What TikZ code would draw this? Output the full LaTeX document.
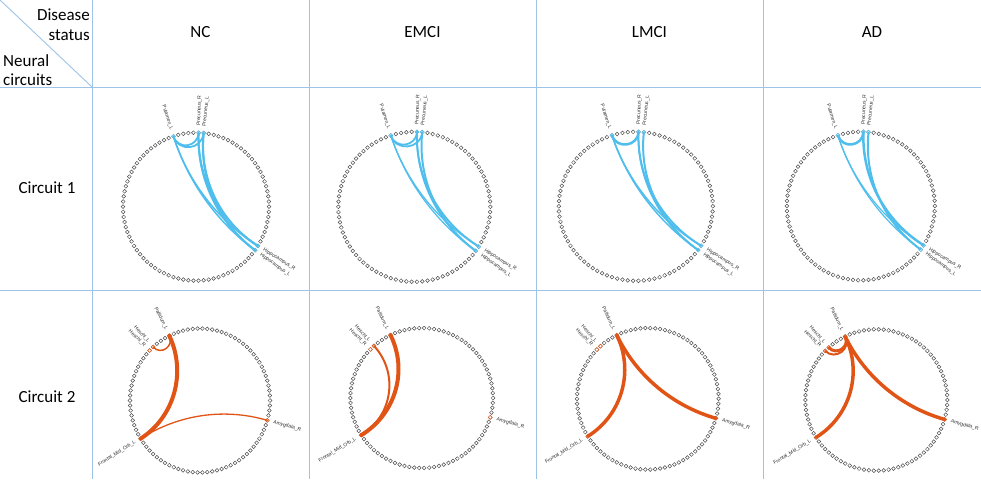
\documentclass[tikz,border=0pt]{standalone}
\usepackage{fontspec}
\setmainfont{Carlito}
\newfontfamily\labelfont{Liberation Sans}
\definecolor{gridblue}{RGB}{157,195,230}
\definecolor{dotgray}{RGB}{80,80,80}
\definecolor{lblue}{RGB}{80,190,236}
\definecolor{orng}{RGB}{224,84,22}
\definecolor{labgray}{RGB}{45,45,45}
\tikzset{
  gridline/.style={draw=gridblue, line width=0.9pt},
  hdr/.style={font=\fontsize{17}{20}\selectfont, inner sep=0pt},
  ringdot/.style={circle, draw=dotgray, fill=white, line width=0.5pt, inner sep=0pt, minimum size=3.8pt},
  hotblue/.style={ringdot, draw=lblue},
  hotorng/.style={ringdot, draw=orng},
  roilab/.style={font=\fontsize{5}{6}\selectfont\labelfont, text=labgray, inner sep=0pt},
  labout/.style={roilab, anchor=west, rotate=#1},
  labin/.style={roilab, anchor=east, rotate=#1},
  bl/.style={draw=lblue, line width=#1, line cap=round},
  org/.style={draw=orng, line width=#1, line cap=round},
}
\newcommand\ringone[1]{%
  \foreach \k in {0,...,89} \node[ringdot] at (\k*4:1) {};
  \foreach \a/\n in {108/put,88/prer,84/prel,-32/hipr,-36/hipl} \node[hotblue] (#1-\n) at (\a:1) {};
  \node[labin=-72] (#1-tput) at (108:1.09) {Putamen\_L};
  \node[labout=88] (#1-tprer) at (88:1.09) {Precuneus\_R};
  \node[labout=84] (#1-tprel) at (84:1.09) {Precuneus\_L};
  \node[labout=-32] (#1-thipr) at (-32:1.09) {Hippocampus\_R};
  \node[labout=-36] (#1-thipl) at (-36:1.09) {Hippocampus\_L};
}
\newcommand\ringtwo[1]{%
  \foreach \k in {0,...,89} \node[ringdot] at (\k*4:1) {};
  \foreach \a/\n in {116/pal,132/hesl,136/hesr,212/fmo,-16/amyr} \node[hotorng] (#1-\n) at (\a:1) {};
  \node[labin=-64] (#1-tpal) at (116:1.09) {Pallidum\_L};
  \node[labin=-48] (#1-thesl) at (132:1.09) {Heschl\_L};
  \node[labin=-44] (#1-thesr) at (136:1.09) {Heschl\_R};
  \node[labin=32] (#1-tfmo) at (212:1.09) {Frontal\_Mid\_Orb\_L};
  \node[labout=-16] (#1-tamyr) at (-16:1.09) {Amygdala\_R};
}
\begin{document}
\begin{tikzpicture}[x=1pt,y=1pt]
\path[use as bounding box] (0,0) rectangle (981,479);
% table grid
\draw[gridline] (0,392) -- (981,392);
\draw[gridline] (0,189) -- (981,189);
\foreach \xx in {92,309,536,763} \draw[gridline] (\xx,0) -- (\xx,479);
\draw[gridline] (0,479) -- (92,392);
% headers
\node[hdr, anchor=east] (hd1) at (90,464) {Disease};
\node[hdr, anchor=east] (hd2) at (90,444) {status};
\node[hdr, anchor=west] (hn1) at (3,418) {Neural};
\node[hdr, anchor=west] (hn2) at (3,399) {circuits};
\node[hdr] (hNC) at (200.5,447) {NC};
\node[hdr] (hEM) at (422.5,447) {EMCI};
\node[hdr] (hLM) at (649.5,447) {LMCI};
\node[hdr] (hAD) at (872,447) {AD};
\node[hdr] (r1) at (47,291) {Circuit 1};
\node[hdr] (r2) at (47,82) {Circuit 2};
% ---------- Circuit 1 ----------
\begin{scope}[shift={(196,272.3)}, xscale=73, yscale=74]
  \ringone{a}
  \draw[bl=1.8] (a-put.center) .. controls (108:0.8027) and (88:0.8027) .. (a-prer.center);
  \draw[bl=1.8] (a-put.center) .. controls (108:0.7705) and (84:0.7705) .. (a-prel.center);
  \draw[bl=1.5] (a-put.center) .. controls (108:0.3541) and (-32:0.3541) .. (a-hipr.center);
  \draw[bl=1.5] (a-put.center) .. controls (108:0.3501) and (-36:0.3501) .. (a-hipl.center);
  \draw[bl=2] (a-prer.center) .. controls (88:0.3812) and (-32:0.3812) .. (a-hipr.center);
  \draw[bl=2] (a-prer.center) .. controls (88:0.3748) and (-36:0.3748) .. (a-hipl.center);
  \draw[bl=2] (a-prel.center) .. controls (84:0.3881) and (-32:0.3881) .. (a-hipr.center);
  \draw[bl=2] (a-prel.center) .. controls (84:0.3812) and (-36:0.3812) .. (a-hipl.center);
\end{scope}
\begin{scope}[shift={(414.3,272.2)}, xscale=76, yscale=75]
  \ringone{b}
  \draw[bl=1.8] (b-put.center) .. controls (108:0.8027) and (88:0.8027) .. (b-prer.center);
  \draw[bl=1.8] (b-put.center) .. controls (108:0.7705) and (84:0.7705) .. (b-prel.center);
  \draw[bl=1.3] (b-put.center) .. controls (108:0.3541) and (-32:0.3541) .. (b-hipr.center);
  \draw[bl=1.3] (b-put.center) .. controls (108:0.3501) and (-36:0.3501) .. (b-hipl.center);
  \draw[bl=2] (b-prer.center) .. controls (88:0.3812) and (-32:0.3812) .. (b-hipr.center);
  \draw[bl=1.5] (b-prer.center) .. controls (88:0.3748) and (-36:0.3748) .. (b-hipl.center);
  \draw[bl=2] (b-prel.center) .. controls (84:0.3812) and (-36:0.3812) .. (b-hipl.center);
\end{scope}
\begin{scope}[shift={(635.8,272.7)}, xscale=77, yscale=74.5]
  \ringone{c}
  \draw[bl=2.5] (c-put.center) .. controls (108:0.8027) and (88:0.8027) .. (c-prer.center);
  \draw[bl=1.5] (c-put.center) .. controls (108:0.3541) and (-32:0.3541) .. (c-hipr.center);
  \draw[bl=1.5] (c-put.center) .. controls (108:0.3501) and (-36:0.3501) .. (c-hipl.center);
  \draw[bl=2] (c-prer.center) .. controls (88:0.3812) and (-32:0.3812) .. (c-hipr.center);
  \draw[bl=1.5] (c-prer.center) .. controls (88:0.3748) and (-36:0.3748) .. (c-hipl.center);
  \draw[bl=2] (c-prel.center) .. controls (84:0.3812) and (-36:0.3812) .. (c-hipl.center);
\end{scope}
\begin{scope}[shift={(860.8,273)}, xscale=74, yscale=74.3]
  \ringone{d}
  \draw[bl=2.5] (d-put.center) .. controls (108:0.8027) and (88:0.8027) .. (d-prer.center);
  \draw[bl=1.2] (d-put.center) .. controls (108:0.3541) and (-32:0.3541) .. (d-hipr.center);
  \draw[bl=1.2] (d-put.center) .. controls (108:0.3501) and (-36:0.3501) .. (d-hipl.center);
  \draw[bl=2.5] (d-prer.center) .. controls (88:0.3812) and (-32:0.3812) .. (d-hipr.center);
  \draw[bl=2] (d-prel.center) .. controls (84:0.3812) and (-36:0.3812) .. (d-hipl.center);
\end{scope}
% ---------- Circuit 2 ----------
\begin{scope}[shift={(200,78.5)}, xscale=70, yscale=72]
  \ringtwo{e}
  \draw[org=1.5] (e-pal.center) .. controls (116:0.8371) and (132:0.8371) .. (e-hesl.center);
  \draw[org=4] (e-pal.center) .. controls (116:0.4316) and (212:0.4316) .. (e-fmo.center);
  \draw[org=1.3] (e-fmo.center) .. controls (212:0.3634) and (-16:0.3634) .. (e-amyr.center);
\end{scope}
\begin{scope}[shift={(421.7,81)}, xscale=71.3, yscale=70]
  \ringtwo{f}
  \draw[org=4] (f-pal.center) .. controls (116:0.4316) and (212:0.4316) .. (f-fmo.center);
  \draw[org=2] (f-hesl.center) .. controls (132:0.4783) and (212:0.4783) .. (f-fmo.center);
\end{scope}
\begin{scope}[shift={(647.8,80.2)}, xscale=70.8, yscale=70.8]
  \ringtwo{g}
  \draw[org=3.5] (g-pal.center) .. controls (116:0.4316) and (212:0.4316) .. (g-fmo.center);
  \draw[org=3.5] (g-pal.center) .. controls (116:0.3634) and (-16:0.3634) .. (g-amyr.center);
\end{scope}
\begin{scope}[shift={(876.3,79)}, xscale=71, yscale=70.7]
  \ringtwo{h}
  \draw[org=3] (h-pal.center) .. controls (116:0.8371) and (132:0.8371) .. (h-hesl.center);
  \draw[org=2] (h-pal.center) .. controls (116:0.8027) and (136:0.8027) .. (h-hesr.center);
  \draw[org=3.5] (h-pal.center) .. controls (116:0.4316) and (212:0.4316) .. (h-fmo.center);
  \draw[org=3.5] (h-pal.center) .. controls (116:0.3634) and (-16:0.3634) .. (h-amyr.center);
\end{scope}
\end{tikzpicture}
\end{document}
